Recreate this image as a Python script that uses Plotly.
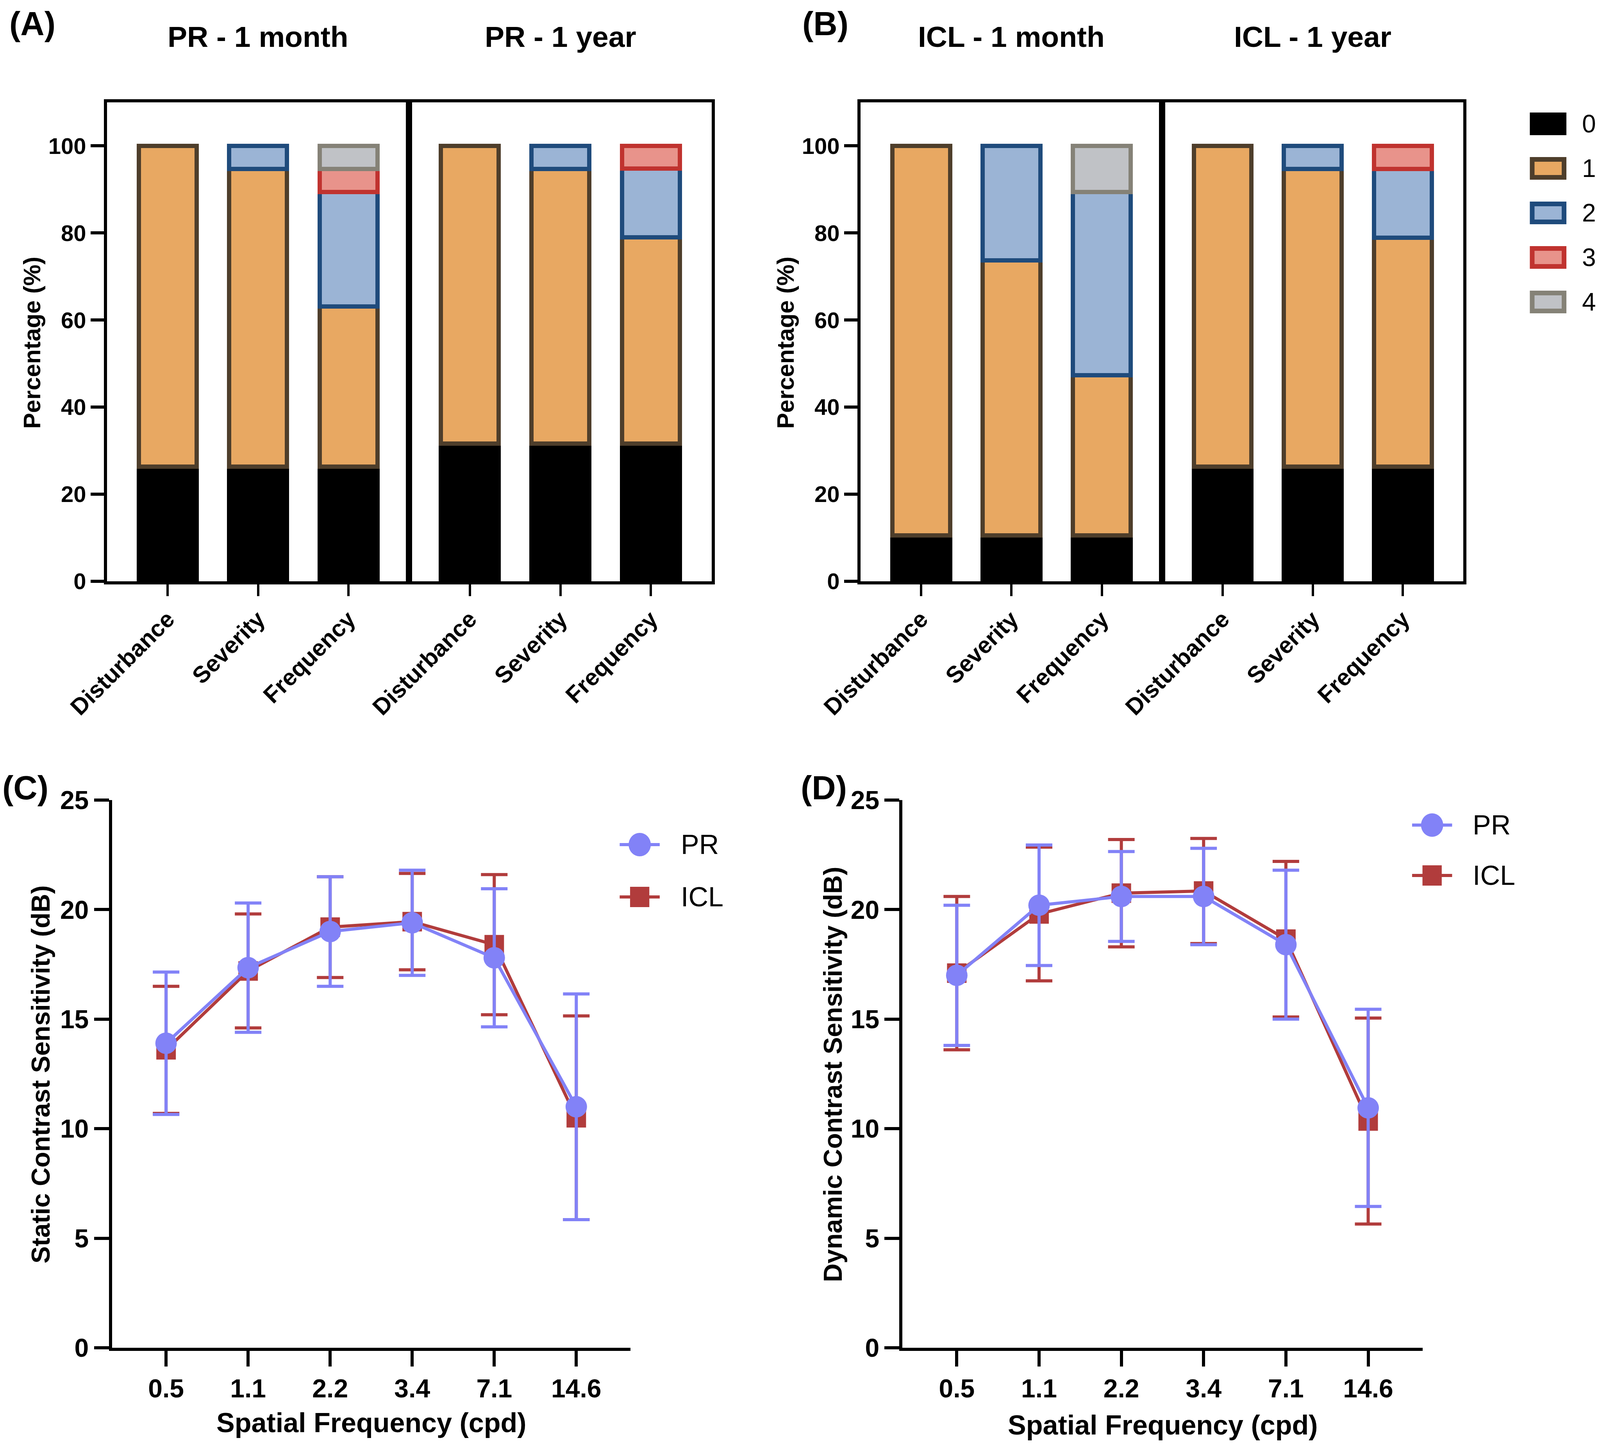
import plotly.graph_objects as go

# design grid follows the 4317x3704 reference; the page is photographed in a 4096 px wide window
W, H = 4317, 3704
FIG_W, FIG_H = 4096, 3704
FS = 0.97  # font compromise for the narrower window
FONT = "Liberation Sans, Arial, Helvetica, sans-serif"

# ---------------- data ----------------
categories = ["Disturbance", "Severity", "Frequency"]
score_levels = ["0", "1", "2", "3", "4"]

pr_1month_0 = [26.3, 26.3, 26.3]
pr_1month_1 = [73.7, 68.4, 36.8]
pr_1month_2 = [0.0, 5.3, 26.3]
pr_1month_3 = [0.0, 0.0, 5.3]
pr_1month_4 = [0.0, 0.0, 5.3]

pr_1year_0 = [31.6, 31.6, 31.6]
pr_1year_1 = [68.4, 63.1, 47.4]
pr_1year_2 = [0.0, 5.3, 15.8]
pr_1year_3 = [0.0, 0.0, 5.2]
pr_1year_4 = [0.0, 0.0, 0.0]

icl_1month_0 = [10.5, 10.5, 10.5]
icl_1month_1 = [89.5, 63.2, 36.8]
icl_1month_2 = [0.0, 26.3, 42.1]
icl_1month_3 = [0.0, 0.0, 0.0]
icl_1month_4 = [0.0, 0.0, 10.6]

icl_1year_0 = [26.3, 26.3, 26.3]
icl_1year_1 = [73.7, 68.4, 52.6]
icl_1year_2 = [0.0, 5.3, 15.8]
icl_1year_3 = [0.0, 0.0, 5.3]
icl_1year_4 = [0.0, 0.0, 0.0]

spatial_freqs = ["0.5", "1.1", "2.2", "3.4", "7.1", "14.6"]

static_pr_mean = [13.9, 17.35, 19.0, 19.4, 17.8, 11.0]
static_pr_sd = [3.25, 2.95, 2.5, 2.4, 3.15, 5.15]
static_icl_mean = [13.6, 17.2, 19.2, 19.45, 18.4, 10.5]
static_icl_sd = [2.9, 2.6, 2.3, 2.2, 3.2, 4.65]

dynamic_pr_mean = [17.0, 20.2, 20.6, 20.6, 18.4, 10.95]
dynamic_pr_sd = [3.2, 2.75, 2.05, 2.2, 3.4, 4.5]
dynamic_icl_mean = [17.1, 19.8, 20.75, 20.85, 18.65, 10.35]
dynamic_icl_sd = [3.5, 3.05, 2.45, 2.4, 3.55, 4.7]

# ---------------- styles ----------------
FILL = ["#000000", "#E8A862", "#9BB4D5", "#E8938B", "#C0C2C6"]
EDGE = ["#000000", "#4E3E2B", "#1F4B7C", "#C0332F", "#858277"]
PR_COLOR = "#8282F7"
ICL_COLOR = "#B13C3C"


def fx(p):
    return p / W


def fy(p):
    return 1 - p / H


def fs(s):
    return round(s * FS)


fig = go.Figure()

panels = [
    ("x", "y", [pr_1month_0, pr_1month_1, pr_1month_2, pr_1month_3, pr_1month_4]),
    ("x2", "y2", [pr_1year_0, pr_1year_1, pr_1year_2, pr_1year_3, pr_1year_4]),
    ("x3", "y3", [icl_1month_0, icl_1month_1, icl_1month_2, icl_1month_3, icl_1month_4]),
    ("x4", "y4", [icl_1year_0, icl_1year_1, icl_1year_2, icl_1year_3, icl_1year_4]),
]
for xa, ya, series in panels:
    for lvl, vals in enumerate(series):
        # empty segments are skipped so their outlines do not show as stray lines
        shown = [v if v > 0 else None for v in vals]
        fig.add_trace(go.Bar(
            x=categories, y=shown, xaxis=xa, yaxis=ya, width=0.64,
            name=score_levels[lvl], showlegend=False,
            marker=dict(color=FILL[lvl], line=dict(color=EDGE[lvl], width=11)),
        ))

line_panels = [
    ("x5", "y5", static_pr_mean, static_pr_sd, static_icl_mean, static_icl_sd),
    ("x6", "y6", dynamic_pr_mean, dynamic_pr_sd, dynamic_icl_mean, dynamic_icl_sd),
]
for xa, ya, prm, prs, iclm, icls in line_panels:
    fig.add_trace(go.Scatter(
        x=spatial_freqs, y=iclm, xaxis=xa, yaxis=ya, mode="lines+markers", name="ICL",
        showlegend=False,
        line=dict(color=ICL_COLOR, width=8),
        marker=dict(symbol="square", size=50, color=ICL_COLOR),
        error_y=dict(type="data", array=icls, color=ICL_COLOR, thickness=8, width=34),
    ))
    fig.add_trace(go.Scatter(
        x=spatial_freqs, y=prm, xaxis=xa, yaxis=ya, mode="lines+markers", name="PR",
        showlegend=False,
        line=dict(color=PR_COLOR, width=8),
        marker=dict(symbol="circle", size=55, color=PR_COLOR),
        error_y=dict(type="data", array=prs, color=PR_COLOR, thickness=8, width=34),
    ))

# ---------------- axes ----------------
bar_y_dom = [fy(1488), fy(262)]
bar_x_doms = [[fx(289), fx(1104)], [fx(1104), fx(1920)],
              [fx(2322), fx(3136)], [fx(3136), fx(3948)]]

layout = dict(
    template="none",
    width=FIG_W, height=FIG_H, autosize=False,
    margin=dict(l=0, r=0, t=0, b=0, pad=0),
    paper_bgcolor="white", plot_bgcolor="white",
    barmode="stack", showlegend=False,
    font=dict(family=FONT, color="black"),
)

for i, dom in enumerate(bar_x_doms, start=1):
    sfx = "" if i == 1 else str(i)
    layout["xaxis" + sfx] = dict(
        domain=dom, anchor="y" + sfx, type="category", range=[-0.67, 2.67],
        automargin=False,
        showline=True, mirror=True, linecolor="black", linewidth=8,
        ticks="outside", ticklen=30, tickwidth=6, tickcolor="black",
        tickangle=-45, showgrid=False, zeroline=False,
        tickfont=dict(family=FONT, size=fs(62), color="black", weight="bold"),
    )
    left = i in (1, 3)
    layout["yaxis" + sfx] = dict(
        domain=bar_y_dom, anchor="x" + sfx, range=[0, 110],
        automargin=False,
        tickvals=[0, 20, 40, 60, 80, 100],
        showline=True, mirror=True, linecolor="black", linewidth=8,
        ticks="outside" if left else "", ticklen=34, tickwidth=8, tickcolor="black",
        showticklabels=left, showgrid=False, zeroline=False,
        tickfont=dict(family=FONT, size=fs(60), color="black", weight="bold"),
    )

line_y_dom = [fy(3450), fy(2048)]
for i, dom in ((5, [fx(302), fx(1701)]), (6, [fx(2435), fx(3838)])):
    layout["xaxis%d" % i] = dict(
        domain=dom, anchor="y%d" % i, type="category", range=[-0.66, 5.66],
        automargin=False,
        showline=True, linecolor="black", linewidth=8,
        ticks="outside", ticklen=40, tickwidth=8, tickcolor="black",
        showgrid=False, zeroline=False,
        tickfont=dict(family=FONT, size=fs(68), color="black", weight="bold"),
    )
    layout["yaxis%d" % i] = dict(
        domain=line_y_dom, anchor="x%d" % i, range=[0, 25], dtick=5,
        automargin=False,
        showline=True, linecolor="black", linewidth=8,
        ticks="outside", ticklen=38, tickwidth=8, tickcolor="black",
        showgrid=False, zeroline=False,
        tickfont=dict(family=FONT, size=fs(68), color="black", weight="bold"),
    )

fig.update_layout(**layout)

# ---------------- text ----------------
def label(text, x, y, size, bold=True, angle=0, anchor="center"):
    fig.add_annotation(
        text=text, x=fx(x), y=fy(y), xref="paper", yref="paper",
        xanchor=anchor, yanchor="middle", showarrow=False, textangle=angle,
        font=dict(family=FONT, size=fs(size), color="black",
                  weight="bold" if bold else "normal"),
    )


label("(A)", 88, 60, 88)
label("(B)", 2227, 60, 88)
label("(C)", 68, 2016, 88)
label("(D)", 2223, 2016, 88)

label("PR - 1 month", 696, 94, 77)
label("PR - 1 year", 1512, 94, 77)
label("ICL - 1 month", 2729, 94, 77)
label("ICL - 1 year", 3542, 94, 77)

label("Percentage (%)", 86, 877, 63, angle=-90)
label("Percentage (%)", 2120, 877, 63, angle=-90)

label("Static Contrast Sensitivity (dB)", 110, 2750, 68, angle=-90)
label("Dynamic Contrast Sensitivity (dB)", 2247, 2750, 68, angle=-90)
label("Spatial Frequency (cpd)", 1002, 3642, 72)
label("Spatial Frequency (cpd)", 3137, 3648, 72)

# ---------------- legends (drawn manually for size) ----------------
legend_rows = [317, 431, 545, 659, 773]
for lvl, yc in enumerate(legend_rows):
    fig.add_shape(type="rect", xref="paper", yref="paper",
                  x0=fx(4134), x1=fx(4220), y0=fy(yc + 23), y1=fy(yc - 23),
                  fillcolor=FILL[lvl], line=dict(color=EDGE[lvl], width=12))
    label(score_levels[lvl], 4266, yc, 66, bold=False, anchor="left")

for cx, ypr, yicl, tx in ((1726, 2162, 2296, 1835), (3864, 2112, 2241, 3971)):
    for yc, col, sym, name in ((ypr, PR_COLOR, "circle", "PR"), (yicl, ICL_COLOR, "rect", "ICL")):
        fig.add_shape(type="line", xref="paper", yref="paper",
                      x0=fx(cx - 54), x1=fx(cx + 54), y0=fy(yc), y1=fy(yc),
                      line=dict(color=col, width=8))
        r = 30 if sym == "circle" else 26
        fig.add_shape(type=sym, xref="paper", yref="paper",
                      x0=fx(cx - r), x1=fx(cx + r), y0=fy(yc + r), y1=fy(yc - r),
                      fillcolor=col, line=dict(color=col, width=0))
        label(name, tx, yc, 72, bold=False, anchor="left")

# remove the default page margin so the figure sits flush in the window
fig.write_html("out.html", config={"displayModeBar": False},
               post_script="document.body.style.margin = '0';")
